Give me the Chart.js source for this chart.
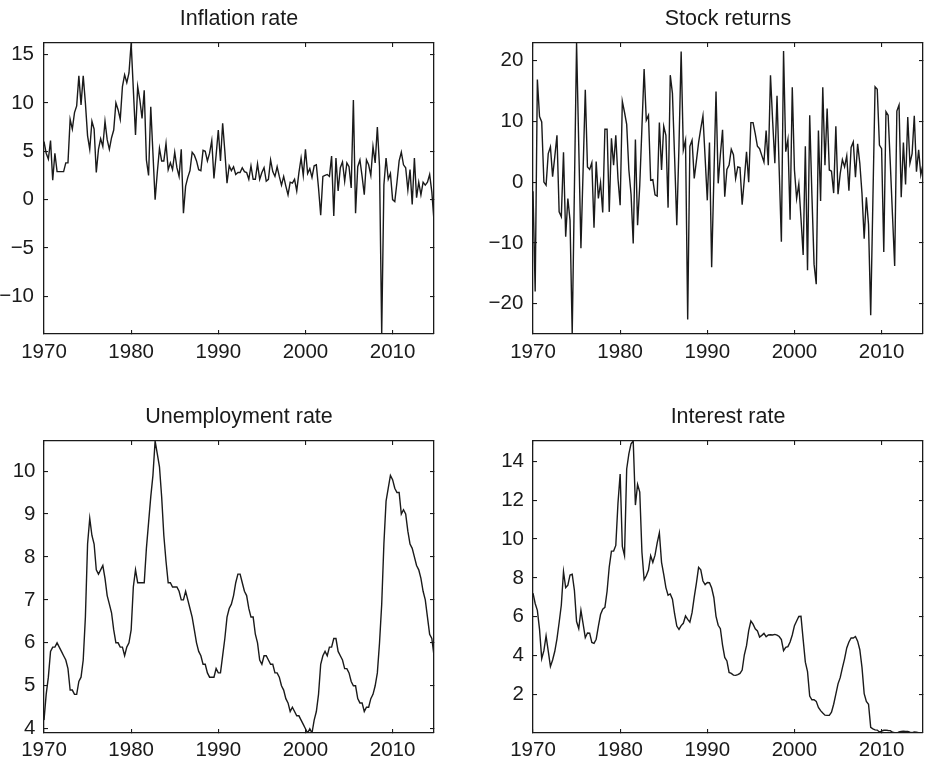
<!DOCTYPE html>
<html>
<head>
<meta charset="UTF-8">
<title>Inflation, stock returns, unemployment and interest rate</title>
<script src="https://cdn.jsdelivr.net/npm/chart.js"></script>
<style>
  body { margin: 0; background: #fff; width: 929px; height: 767px; position: relative; overflow: hidden; }
  canvas { position: absolute; }
</style>
</head>
<body>
<canvas id="inflation" width="465" height="384" style="left:0;top:0"></canvas>
<canvas id="stocks" width="464" height="384" style="left:465px;top:0"></canvas>
<canvas id="unemployment" width="465" height="383" style="left:0;top:384px"></canvas>
<canvas id="interest" width="464" height="383" style="left:465px;top:384px"></canvas>
<script>
// quarterly observations, 1970Q1 .. 2014Q4
const firstYear = 1970;
const lastYear = 2014;
const quarters = [];
for (let y = firstYear; y <= lastYear; y++) {
  for (let q = 0; q < 4; q++) quarters.push(y + q / 4);
}

const inflation = [
  6.0, 4.8, 4.2, 6.1,    2.0, 4.8, 2.9, 2.9,
  2.9, 2.9, 3.8, 3.8,    8.3, 7.3, 9.0, 9.7,
  12.8, 9.8, 12.8, 10.0, 6.6, 5.2, 8.1, 7.3,
  2.8, 5.2, 6.3, 5.5,    8.1, 6.2, 5.2, 6.4,
  7.2, 10.0, 9.3, 8.3,   11.7, 12.9, 12.1, 13.1,
  16.2, 11.4, 6.7, 11.7, 10.3, 8.4, 11.3, 4.1,
  2.5, 9.6, 4.8, 0.0,    2.8, 5.3, 4.0, 4.0,
  5.8, 3.1, 3.8, 3.1,    4.9, 3.3, 2.4, 5.2,
  -1.4, 1.4, 2.3, 3.0,   4.9, 4.6, 4.0, 3.1,
  3.0, 5.1, 5.0, 4.0,    4.8, 6.1, 2.2, 4.6,
  7.2, 4.0, 7.9, 5.0,    1.7, 3.5, 3.0, 3.4,
  2.6, 2.8, 2.8, 3.3,    2.9, 2.8, 2.1, 3.5,
  2.1, 2.1, 3.7, 2.1,    2.8, 3.3, 1.9, 2.1,
  4.1, 2.9, 2.4, 3.4,    2.4, 1.5, 2.4, 1.4,
  0.5, 1.8, 1.7, 2.1,    0.9, 2.8, 4.3, 2.5,
  5.2, 2.7, 3.2, 2.3,    3.5, 3.6, 1.2, -1.6,
  2.4, 2.5, 2.6, 2.4,    4.5, -1.7, 4.3, 0.9,
  3.3, 3.9, 1.9, 3.8,    3.4, 1.2, 10.3, -1.4,
  3.4, 4.1, 2.4, 0.5,    4.1, 3.6, 2.5, 5.5,
  3.8, 7.5, 3.4, -13.9,  1.5, 4.3, 2.1, 2.7,
  0.0, -0.2, 1.8, 4.0,   4.9, 3.6, 3.3, 1.0,
  3.1, -0.5, 4.3, 0.2,   1.8, 0.5, 1.8, 1.5,
  1.8, 2.6, 0.8, -2.2
];

const stockReturns = [
  -1.5, -18.0, 16.9, 10.8,  9.9, 0.0, -0.5, 4.7,
  5.8, 0.9, 4.2, 7.7,       -4.9, -5.7, 4.9, -9.0,
  -2.7, -6.3, -25.0, -1.2,  22.9, 6.0, -10.9, 2.0,
  15.2, 2.5, 2.1, 3.2,      -7.5, 3.4, -2.7, -0.1,
  -5.0, 8.7, 8.7, -4.9,     7.2, 2.8, 7.7, 0.6,
  -3.8, 13.3, 11.5, 9.5,    2.0, -2.0, -10.1, 7.0,
  -7.1, -0.5, 9.0, 18.6,    10.2, 11.0, 0.3, 0.4,
  -2.1, -2.3, 9.8, 2.0,     9.2, 7.7, -4.2, 17.6,
  14.6, 4.0, -7.1, 6.0,     21.5, 5.3, 6.9, -22.6,
  5.9, 6.9, 0.6, 3.5,       6.5, 8.8, 10.9, 4.0,
  -3.0, 6.5, -14.0, 0.5,    14.9, -0.2, 4.5, 8.6,
  -2.4, 2.1, 2.8, 5.4,      4.5, 0.6, 2.5, 2.4,
  -3.7, 0.5, 5.0, 0.0,      9.8, 9.8, 8.0, 5.9,
  5.5, 4.4, 3.3, 8.5,       2.8, 17.6, 10.0, 3.1,
  14.2, 2.0, -9.8, 21.6,    5.0, 7.0, -6.2, 15.6,
  2.0, -2.7, -0.3, -6.0,    -12.0, 5.9, -14.5, 11.0,
  -2.0, -13.5, -16.8, 8.5,  -3.1, 15.6, 2.8, 12.1,
  2.0, 1.8, -1.8, 9.2,      -2.0, 1.4, 3.7, 2.5,
  4.3, -1.4, 5.7, 6.6,      0.8, 6.3, 3.1, -1.9,
  -9.3, -2.5, -7.0, -21.9,  -3.0, 15.7, 15.3, 6.1,
  5.5, -11.5, 11.6, 11.0,   3.0, -5.5, -13.8, 11.7,
  12.7, -2.5, 6.5, -0.4,    10.7, 3.1, 4.7, 10.9,
  1.7, 5.3, 1.2, 3.0
];

const unemployment = [
  4.2, 4.8, 5.2, 5.8,   5.9, 5.9, 6.0, 5.9,
  5.8, 5.7, 5.6, 5.4,   4.9, 4.9, 4.8, 4.8,
  5.1, 5.2, 5.6, 6.6,   8.3, 8.9, 8.5, 8.3,
  7.7, 7.6, 7.7, 7.8,   7.5, 7.1, 6.9, 6.7,
  6.3, 6.0, 6.0, 5.9,   5.9, 5.7, 5.9, 6.0,
  6.3, 7.3, 7.7, 7.4,   7.4, 7.4, 7.4, 8.2,
  8.8, 9.4, 9.9, 10.7,  10.4, 10.1, 9.4, 8.5,
  7.9, 7.4, 7.4, 7.3,   7.3, 7.3, 7.2, 7.0,
  7.0, 7.2, 7.0, 6.8,   6.6, 6.3, 6.0, 5.8,
  5.7, 5.5, 5.5, 5.3,   5.2, 5.2, 5.2, 5.4,
  5.3, 5.3, 5.7, 6.1,   6.6, 6.8, 6.9, 7.1,
  7.4, 7.6, 7.6, 7.4,   7.2, 7.1, 6.8, 6.6,
  6.6, 6.2, 6.0, 5.6,   5.5, 5.7, 5.7, 5.6,
  5.5, 5.5, 5.3, 5.3,   5.2, 5.0, 4.9, 4.7,
  4.6, 4.4, 4.5, 4.4,   4.3, 4.3, 4.2, 4.1,
  4.0, 3.9, 4.0, 3.9,   4.2, 4.4, 4.8, 5.5,
  5.7, 5.8, 5.7, 5.9,   5.9, 6.1, 6.1, 5.8,
  5.7, 5.6, 5.4, 5.4,   5.3, 5.1, 5.0, 5.0,
  4.7, 4.6, 4.6, 4.4,   4.5, 4.5, 4.7, 4.8,
  5.0, 5.3, 6.0, 6.9,   8.3, 9.3, 9.6, 9.9,
  9.8, 9.6, 9.5, 9.5,   9.0, 9.1, 9.0, 8.6,
  8.3, 8.2, 8.0, 7.8,   7.7, 7.5, 7.2, 7.0,
  6.6, 6.2, 6.1, 5.7
];

const interestRate = [
  7.21, 6.68, 6.33, 5.35,    3.84, 4.25, 5.01, 4.23,
  3.44, 3.77, 4.22, 4.86,    5.70, 6.60, 8.32, 7.50,
  7.62, 8.15, 8.19, 7.36,    5.75, 5.39, 6.33, 5.63,
  4.92, 5.16, 5.15, 4.67,    4.63, 4.84, 5.50, 6.11,
  6.39, 6.48, 7.31, 8.57,    9.38, 9.38, 9.67, 11.84,
  13.35, 9.62, 9.15, 13.61,  14.39, 14.91, 15.05, 11.75,
  12.81, 12.42, 9.32, 7.91,  8.11, 8.40, 9.14, 8.80,
  9.17, 9.80, 10.32, 8.80,   8.18, 7.50, 7.11, 7.17,
  6.90, 6.14, 5.52, 5.35,    5.54, 5.66, 6.04, 5.86,
  5.72, 6.21, 7.01, 7.73,    8.54, 8.41, 7.84, 7.65,
  7.76, 7.75, 7.48, 6.99,    6.02, 5.56, 5.38, 4.54,
  3.90, 3.72, 3.13, 3.08,    2.99, 2.98, 3.02, 3.08,
  3.25, 4.04, 4.51, 5.28,    5.78, 5.62, 5.38, 5.27,
  4.95, 5.04, 5.14, 4.97,    5.06, 5.07, 5.06, 5.09,
  5.05, 4.98, 4.82, 4.25,    4.42, 4.46, 4.70, 5.06,
  5.54, 5.78, 6.01, 6.02,    4.82, 3.66, 3.17, 1.91,
  1.72, 1.72, 1.64, 1.33,    1.16, 1.04, 0.93, 0.92,
  0.92, 1.08, 1.49, 2.01,    2.54, 2.86, 3.36, 3.83,
  4.39, 4.70, 4.91, 4.90,    4.98, 4.74, 4.30, 3.39,
  2.04, 1.63, 1.49, 0.30,    0.22, 0.17, 0.16, 0.06,
  0.11, 0.15, 0.16, 0.14,    0.13, 0.05, 0.03, 0.01,
  0.07, 0.09, 0.10, 0.09,    0.09, 0.05, 0.03, 0.06,
  0.05, 0.03, 0.03, 0.02
];

// tick labels
const yearTicks = [1970, 1980, 1990, 2000, 2010];
const inflationTicks = [-10, -5, 0, 5, 10, 15];
const stockTicks = [-20, -10, 0, 10, 20];
const unemploymentTicks = [4, 5, 6, 7, 8, 9, 10];
const interestTicks = [2, 4, 6, 8, 10, 12, 14];

const ink = '#1a1a1a';
const family = "'Liberation Sans', Arial, Helvetica, sans-serif";
const tickFont = { family, size: 20.5 };

const panels = [
  { id: 'inflation', title: 'Inflation rate', values: inflation, ticks: inflationTicks,
    min: -13.9, max: 16.2, yWidth: 44, yPad: 14, right: 31,
    titlePad: { top: 6.3, bottom: 10.9 }, xHeight: 50, xPad: 10.5 },
  { id: 'stocks', title: 'Stock returns', values: stockReturns, ticks: stockTicks,
    min: -25, max: 22.9, yWidth: 68, yPad: 13.7, right: 6,
    titlePad: { top: 6.3, bottom: 10.9 }, xHeight: 50, xPad: 10.5 },
  { id: 'unemployment', title: 'Unemployment rate', values: unemployment, ticks: unemploymentTicks,
    min: 3.9, max: 10.7, yWidth: 44, yPad: 12.5, right: 31,
    titlePad: { top: 20.6, bottom: 10.6 }, xHeight: 34, xPad: 8.7 },
  { id: 'interest', title: 'Interest rate', values: interestRate, ticks: interestTicks,
    min: 0.01, max: 15.05, yWidth: 68, yPad: 13, right: 6,
    titlePad: { top: 20.6, bottom: 10.6 }, xHeight: 34, xPad: 8.7 }
];

function setTicks(list) {
  return scale => { scale.ticks = list.map(v => ({ value: v })); };
}

// box edges with short inward tick marks on all four sides
function axis(extra) {
  return Object.assign({
    type: 'linear',
    border: { display: true, color: ink, width: 1.3 },
    grid: { drawOnChartArea: false, drawTicks: true, tickLength: -4, tickColor: ink, lineWidth: 1.1 }
  }, extra);
}

function drawPanel(p) {
  const points = quarters.map((x, i) => ({ x, y: p.values[i] }));
  new Chart(document.getElementById(p.id), {
    type: 'line',
    data: {
      datasets: [{
        data: points,
        borderColor: ink,
        borderWidth: 1.4,
        pointRadius: 0,
        tension: 0,
        fill: false
      }]
    },
    options: {
      responsive: false,
      animation: false,
      events: [],
      layout: { padding: { left: 0, right: p.right, top: 0, bottom: 0 } },
      plugins: {
        legend: { display: false },
        tooltip: { enabled: false },
        title: {
          display: true,
          text: p.title,
          fullSize: false,
          color: ink,
          font: { family, size: 21.5, weight: 'normal', lineHeight: 1.2 },
          padding: p.titlePad
        }
      },
      scales: {
        x: axis({
          position: 'bottom', min: 1970, max: 2014.75,
          afterBuildTicks: setTicks(yearTicks),
          afterFit: s => { s.height = p.xHeight; },
          ticks: { padding: p.xPad, color: ink, font: tickFont, maxRotation: 0, autoSkip: false,
                   callback: v => String(v) }
        }),
        xTop: axis({
          position: 'top', min: 1970, max: 2014.75,
          afterBuildTicks: setTicks(yearTicks),
          afterFit: s => { s.height = 0; },
          ticks: { display: false }
        }),
        y: axis({
          position: 'left', min: p.min, max: p.max,
          afterBuildTicks: setTicks(p.ticks),
          afterFit: s => { s.width = p.yWidth; },
          ticks: { padding: p.yPad, color: ink, font: tickFont, autoSkip: false,
                   callback: v => String(v).replace('-', '\u2212') }
        }),
        yRight: axis({
          position: 'right', min: p.min, max: p.max,
          afterBuildTicks: setTicks(p.ticks),
          afterFit: s => { s.width = 0; },
          ticks: { display: false }
        })
      }
    }
  });
}

panels.forEach(drawPanel);
</script>
</body>
</html>
